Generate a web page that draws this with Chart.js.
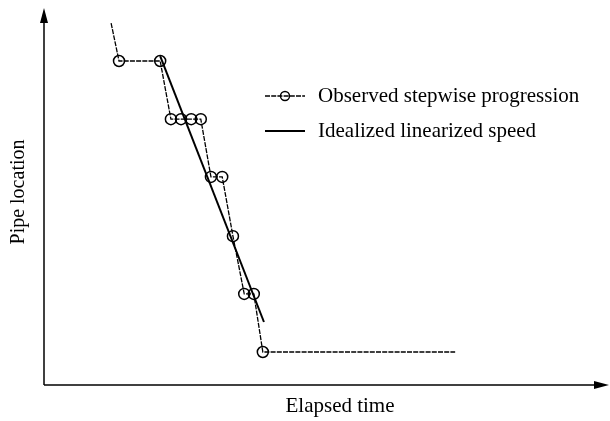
<!DOCTYPE html>
<html>
<head>
<meta charset="utf-8">
<script src="https://cdn.jsdelivr.net/npm/chart.js@4"></script>
<style>
  html, body { margin: 0; padding: 0; background: #fff; }
  #chart { display: block; }
</style>
</head>
<body>
<canvas id="chart" width="610" height="421"></canvas>
<script>
// observed stepwise progression (time, location)
const observedTime = [11.9, 13.3, 20.6, 22.5, 24.3, 26.1, 27.8, 29.6, 31.6, 33.5, 35.5, 37.2, 38.8, 72.9];
const observedLoc = [96.5, 86.4, 86.4, 70.9, 70.9, 70.9, 70.9, 55.5, 55.5, 39.7, 24.3, 24.3, 8.8, 8.8];
// which observed points get a circle marker (first and last are just line ends)
const observedMarker = [0, 1, 1, 1, 1, 1, 1, 1, 1, 1, 1, 1, 1, 0];

// idealized linear speed
const idealTime = [20.6, 39.0];
const idealLoc = [87.7, 16.8];

const axisTitles = { x: 'Elapsed time', y: 'Pipe location' };
const FONT = '"Liberation Serif", "Times New Roman", serif';

const observedData = observedTime.map((t, i) => ({ x: t, y: observedLoc[i] }));
const idealData = idealTime.map((t, i) => ({ x: t, y: idealLoc[i] }));

// axes with arrow heads + axis titles + legend inside plot
const sketchPlugin = {
    id: 'sketch',
    afterDraw(chart) {
        const ctx = chart.ctx;
        const a = chart.chartArea;
        ctx.save();
        ctx.strokeStyle = '#000';
        ctx.fillStyle = '#000';
        ctx.lineWidth = 1.5;
        ctx.setLineDash([]);

        // y axis
        ctx.beginPath();
        ctx.moveTo(a.left, a.bottom);
        ctx.lineTo(a.left, a.top + 10);
        ctx.stroke();
        ctx.beginPath();
        ctx.moveTo(a.left, a.top - 2);
        ctx.lineTo(a.left - 4, a.top + 13);
        ctx.lineTo(a.left + 4, a.top + 13);
        ctx.closePath();
        ctx.fill();

        // x axis
        ctx.beginPath();
        ctx.moveTo(a.left, a.bottom);
        ctx.lineTo(a.right - 10, a.bottom);
        ctx.stroke();
        ctx.beginPath();
        ctx.moveTo(a.right + 1, a.bottom);
        ctx.lineTo(a.right - 14, a.bottom - 4);
        ctx.lineTo(a.right - 14, a.bottom + 4);
        ctx.closePath();
        ctx.fill();

        // titles
        ctx.textAlign = 'center';
        ctx.textBaseline = 'middle';
        ctx.font = '21px ' + FONT;
        ctx.fillText(axisTitles.x, 340, 406);
        ctx.save();
        ctx.font = '20px ' + FONT;
        ctx.translate(19, 192);
        ctx.rotate(-Math.PI / 2);
        ctx.fillText(axisTitles.y, 0, 0);
        ctx.restore();

        // legend
        const rows = [96, 131];
        ctx.font = '21px ' + FONT;
        ctx.textAlign = 'left';
        chart.data.datasets.forEach((ds, i) => {
            const y = rows[i];
            ctx.lineWidth = ds.borderWidth;
            ctx.setLineDash(ds.borderDash || []);
            ctx.beginPath();
            ctx.moveTo(265, y);
            ctx.lineTo(305, y);
            ctx.stroke();
            if (ds.legendMarker) {
                ctx.setLineDash([]);
                ctx.lineWidth = 1.4;
                ctx.beginPath();
                ctx.arc(285, y, 4.5, 0, Math.PI * 2);
                ctx.stroke();
            }
            ctx.setLineDash([]);
            ctx.fillText(ds.label, 318, y);
        });
        ctx.restore();
    }
};

new Chart(document.getElementById('chart'), {
    type: 'line',
    data: {
        datasets: [
            {
                label: 'Observed stepwise progression',
                data: observedData,
                borderColor: '#000',
                borderWidth: 1.3,
                borderDash: [5, 1.2],
                backgroundColor: 'transparent',
                pointRadius: observedMarker.map(m => m ? 5.5 : 0),
                pointBorderWidth: 1.5,
                pointBorderColor: '#000',
                pointBackgroundColor: 'transparent',
                legendMarker: true,
                tension: 0
            },
            {
                label: 'Idealized linearized speed',
                data: idealData,
                borderColor: '#000',
                borderWidth: 2,
                pointRadius: 0,
                tension: 0
            }
        ]
    },
    options: {
        responsive: false,
        animation: false,
        layout: { padding: { left: 44, right: 2, top: 10, bottom: 36 } },
        plugins: {
            legend: { display: false },
            tooltip: { enabled: false }
        },
        scales: {
            x: { type: 'linear', min: 0, max: 100, display: false },
            y: { type: 'linear', min: 0, max: 100, display: false }
        }
    },
    plugins: [sketchPlugin]
});
</script>
</body>
</html>
